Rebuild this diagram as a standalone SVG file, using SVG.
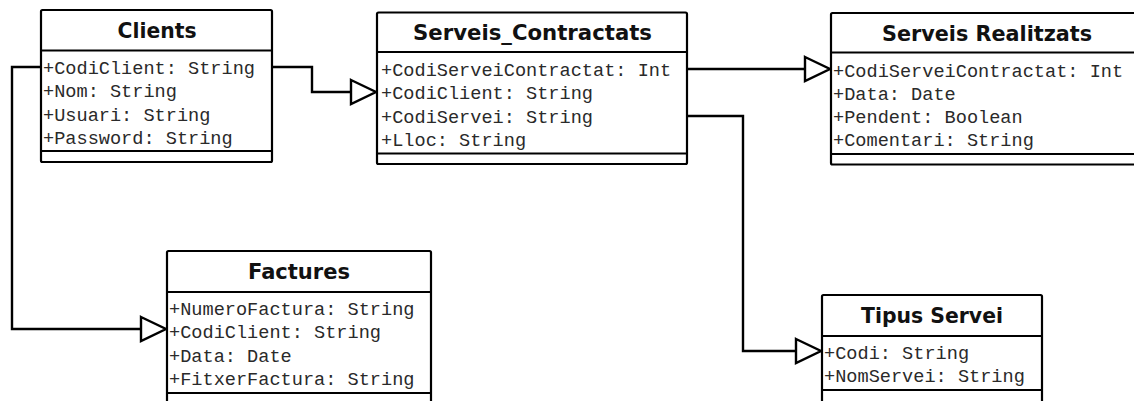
<svg xmlns="http://www.w3.org/2000/svg" width="1134" height="401" viewBox="0 0 1134 401">
<defs>
<style>
.box{fill:#fff;stroke:#000;stroke-width:2.2}
.sep{stroke:#000;stroke-width:2}
.hd{font-family:"DejaVu Sans",Verdana,sans-serif;font-weight:bold;font-size:20.5px;fill:#111;text-anchor:middle}
.at{font-family:"Liberation Mono","Courier New",monospace;font-size:18.6px;fill:#2a2a2a}
.conn{fill:none;stroke:#000;stroke-width:2.4}
.arr{fill:#fff;stroke:#000;stroke-width:2.4;stroke-linejoin:miter}
</style>
</defs>
<rect width="1134" height="401" fill="#fff"/>
<g id="connectors">
<polyline class="conn" points="272,67 312,67 312,92 351,92"/>
<polygon class="arr" points="351,80 376,92 351,104"/>
<polyline class="conn" points="41,67 12,67 12,329 141,329"/>
<polygon class="arr" points="141,317 166,329 141,341"/>
<polyline class="conn" points="687,69 805,69"/>
<polygon class="arr" points="805,57 830,69 805,81"/>
<polyline class="conn" points="687,116 743,116 743,351 796,351"/>
<polygon class="arr" points="796,339 821,351 796,363"/>
</g>
<g id="clients">
<rect class="box" x="41" y="10" width="231" height="152" rx="1.5"/>
<line class="sep" x1="41" y1="50.5" x2="272" y2="50.5"/>
<line class="sep" x1="41" y1="151" x2="272" y2="151"/>
<text class="hd" x="157" y="37.5" textLength="79" lengthAdjust="spacingAndGlyphs">Clients</text>
<text class="at" x="43" y="74">+CodiClient: String</text>
<text class="at" x="43" y="97.3">+Nom: String</text>
<text class="at" x="43" y="120.6">+Usuari: String</text>
<text class="at" x="43" y="143.9">+Password: String</text>
</g>
<g id="serveis_contractats">
<rect class="box" x="377" y="12.5" width="310" height="151.5" rx="1.5"/>
<line class="sep" x1="377" y1="52" x2="687" y2="52"/>
<line class="sep" x1="377" y1="153.5" x2="687" y2="153.5"/>
<text class="hd" x="532.5" y="40" textLength="239" lengthAdjust="spacingAndGlyphs">Serveis_Contractats</text>
<text class="at" x="381" y="76">+CodiServeiContractat: Int</text>
<text class="at" x="381" y="99.3">+CodiClient: String</text>
<text class="at" x="381" y="122.6">+CodiServei: String</text>
<text class="at" x="381" y="145.9">+Lloc: String</text>
</g>
<g id="serveis_realitzats">
<rect class="box" x="831" y="13" width="320" height="151.5" rx="1.5"/>
<line class="sep" x1="831" y1="52.5" x2="1151" y2="52.5"/>
<line class="sep" x1="831" y1="154" x2="1151" y2="154"/>
<text class="hd" x="987" y="40.5" textLength="210" lengthAdjust="spacingAndGlyphs">Serveis Realitzats</text>
<text class="at" x="833" y="76.5">+CodiServeiContractat: Int</text>
<text class="at" x="833" y="99.8">+Data: Date</text>
<text class="at" x="833" y="123.1">+Pendent: Boolean</text>
<text class="at" x="833" y="146.4">+Comentari: String</text>
</g>
<g id="factures">
<rect class="box" x="167" y="251" width="264" height="170" rx="1.5"/>
<line class="sep" x1="167" y1="292" x2="431" y2="292"/>
<line class="sep" x1="167" y1="393" x2="431" y2="393"/>
<text class="hd" x="299" y="279" textLength="102" lengthAdjust="spacingAndGlyphs">Factures</text>
<text class="at" x="169" y="314.5">+NumeroFactura: String</text>
<text class="at" x="169" y="338">+CodiClient: String</text>
<text class="at" x="169" y="361.5">+Data: Date</text>
<text class="at" x="169" y="385">+FitxerFactura: String</text>
</g>
<g id="tipus_servei">
<rect class="box" x="822" y="295" width="220" height="130" rx="1.5"/>
<line class="sep" x1="822" y1="336" x2="1042" y2="336"/>
<line class="sep" x1="822" y1="390" x2="1042" y2="390"/>
<text class="hd" x="932" y="323" textLength="142" lengthAdjust="spacingAndGlyphs">Tipus Servei</text>
<text class="at" x="824" y="358.5">+Codi: String</text>
<text class="at" x="824" y="381.8">+NomServei: String</text>
</g>
</svg>
